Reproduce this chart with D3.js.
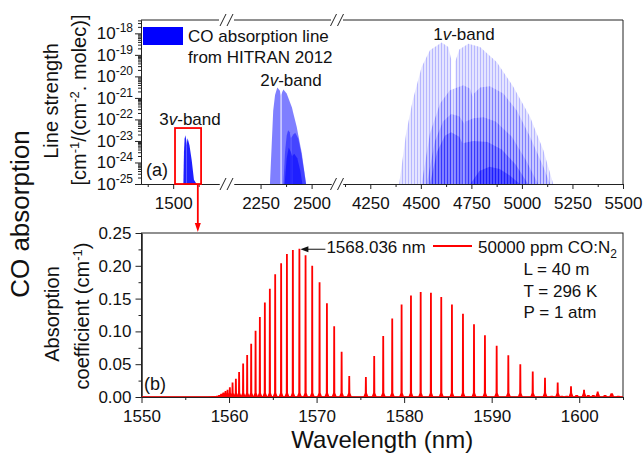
<!DOCTYPE html>
<html lang="en">
<head>
<meta charset="UTF-8">
<title>CO absorption</title>
<script src="https://d3js.org/d3.v7.min.js"></script>
<style>
  body { margin: 0; background: #fff; }
  svg { font-family: "Liberation Sans", Arial, sans-serif; }
  text { fill: #111; }
  .axis path, .axis line { stroke: #222; stroke-width: 1; }
  .axis text { font-size: 17px; fill: #111; }
</style>
</head>
<body>
<div id="chart"></div>
<script>
// ---------- data, top panel: HITRAN line strength envelopes, [wavelength nm, log10 S] ----------
// each band: list of layers (isotopologues), each layer: list of branch domes
const band3v = [
  [[[1550,-25],[1553,-23.5],[1556,-22.9],[1560,-22.73],[1564,-22.95],[1566,-23.2]],
   [[1567,-23.1],[1571,-22.88],[1580,-23.2],[1591,-23.9],[1602,-24.8],[1615,-25]]]
];
const band2v = [
  [[[2296,-25],[2305,-23.1],[2312,-21.6],[2321,-20.87],[2332,-20.52],[2345,-20.67],[2348,-20.9]],
   [[2353,-20.85],[2356,-20.72],[2362,-20.61],[2378,-20.8],[2403,-21.42],[2427,-22.34],[2452,-23.57],[2473,-25]]],
  [[[2362,-25],[2370,-23.5],[2378,-22.75],[2385,-22.5],[2393,-22.6],[2398,-22.9]],
   [[2401,-22.85],[2410,-22.7],[2420,-22.62],[2435,-22.9],[2450,-23.6],[2465,-24.5],[2473,-25]]],
  [[[2368,-25],[2378,-23.8],[2388,-23.3],[2398,-23.5],[2404,-23.7]],
   [[2406,-23.7],[2415,-23.6],[2430,-23.8],[2445,-24.4],[2455,-25]]]
];
const band1v = [
  [[[4393,-25],[4427,-22.65],[4460,-21.11],[4504,-19.56],[4545,-18.79],[4603,-18.43],[4636,-18.63],[4650,-19.2]],
   [[4671,-19.3],[4690,-18.75],[4735,-18.48],[4793,-18.63],[4875,-19.33],[4958,-20.49],[5040,-21.88],[5106,-23.43],[5155,-25]]],
  [[[4504,-25],[4545,-22.65],[4595,-21.26],[4644,-20.64],[4710,-20.41],[4743,-20.56],[4756,-20.95]],
   [[4763,-20.8],[4793,-20.52],[4842,-20.46],[4908,-20.8],[4974,-21.57],[5040,-22.81],[5106,-24.2],[5139,-25]]],
  [[[4529,-25],[4570,-23.0],[4610,-22.1],[4650,-21.75],[4690,-21.85],[4715,-22.2]],
   [[4722,-22.1],[4760,-21.95],[4810,-21.9],[4870,-22.1],[4950,-22.8],[5020,-23.9],[5080,-25]]],
  [[[4545,-25],[4580,-23.5],[4620,-22.75],[4650,-22.6],[4690,-22.8],[4705,-23.1]],
   [[4712,-23.1],[4760,-23.0],[4830,-23.05],[4900,-23.4],[4970,-24.1],[5030,-25]]],
  [[[4745,-25],[4790,-24.4],[4840,-24.2],[4890,-24.3],[4940,-24.6],[4990,-25]]]
];
const segDomains = [[1342, 1725], [2120, 2595], [4115, 5500]];
const topMajor = [[1500], [2250, 2500], [4250, 4500, 4750, 5000, 5250, 5500]];
const topMinor = [[1375, 1625], [2375], [4125, 4375, 4625, 4875, 5125, 5375]];
const topDecades = [-25, -24, -23, -22, -21, -20, -19, -18];
const zoomBox = [1509, 1637, -22.4];   // wavelength from, to, log10 S top
const zoomArrowAt = 1621;

// ---------- data, bottom panel: absorption lines (nm, cm-1) ----------
const lineCenters = [1557.9,1558.15,1558.38,1558.64,1558.91,1559.14,1559.37,1559.60,1559.83,1560.09,
  1560.40,1560.78,1561.15,1561.61,1562.07,1562.53,1563.03,1563.52,1564.09,1564.66,1565.27,1565.95,
  1566.61,1567.29,1568.036,1568.74,1569.50,1570.34,1571.18,1572.01,1572.86,1573.73,1575.63,1576.58,
  1577.61,1578.64,1579.71,1580.78,1581.89,1583.06,1584.24,1585.46,1586.72,1587.98,1589.23,1590.57,
  1591.90,1593.27,1594.69,1596.09,1597.54,1599.06,1600.55,1602.11,1603.71];
const lineHeights = [0.0005,0.0008,0.001,0.002,0.003,0.005,0.007,0.009,0.011,0.015,
  0.022,0.028,0.038,0.051,0.064,0.081,0.101,0.122,0.144,0.165,0.187,0.204,
  0.218,0.224,0.226,0.216,0.200,0.175,0.143,0.108,0.069,0.032,0.0305,0.0625,
  0.093,0.1195,0.141,0.1546,0.160,0.159,0.1525,0.141,0.127,0.111,0.094,0.078,
  0.0635,0.050,0.039,0.0295,0.022,0.0163,0.0112,0.0082,0.0056];
const weakCenters = [1596.86,1598.0,1598.57,1599.71,1601.04,1601.61,1602.95,1604.47];
const weakHeights = [0.002,0.002,0.002,0.003,0.003,0.003,0.003,0.002];
const bottomXTicks = [1550, 1560, 1570, 1580, 1590, 1600];
const bottomXMinor = [1555, 1565, 1575, 1585, 1595, 1605];
const bottomYTicks = [0, 0.05, 0.10, 0.15, 0.20, 0.25];
const bottomYMinor = [0.025, 0.075, 0.125, 0.175, 0.225];
const peakLabel = 1568.036;
const legendLines = ["L = 40 m", "T = 296 K", "P = 1 atm"];

// ---------- layout ----------
const W = 644, H = 459;
const pa = {left: 141, right: 623, top: 20, bottom: 184};
const pb = {left: 141.5, right: 623, top: 233, bottom: 397};
const segRanges = [[pa.left, 219], [234, 331], [343, pa.right]];

const svg = d3.select("#chart").append("svg").attr("width", W).attr("height", H);
const defs = svg.append("defs");
defs.append("pattern").attr("id", "stripes").attr("patternUnits", "userSpaceOnUse")
  .attr("width", 3).attr("height", 10)
  .append("rect").attr("width", 1).attr("height", 10).attr("fill", "#0000ff").attr("fill-opacity", 0.2);
defs.append("clipPath").attr("id", "clipA").append("rect")
  .attr("x", pa.left).attr("y", pa.top).attr("width", pa.right - pa.left).attr("height", pa.bottom - pa.top);
defs.append("clipPath").attr("id", "clipB").append("rect")
  .attr("x", pb.left).attr("y", pb.top - 2).attr("width", pb.right - pb.left).attr("height", pb.bottom - pb.top + 2);

// ---------- top panel ----------
const xSeg = segDomains.map((d, i) => d3.scaleLinear().domain(d).range(segRanges[i]));
const yTop = d3.scaleLog().domain([1e-25, Math.pow(10, -17.38)]).range([pa.bottom, pa.top]);

function domeArea(xs) {
  return d3.area().x(d => xs(d[0])).y0(pa.bottom).y1(d => yTop(Math.pow(10, d[1])));
}

const bands = [
  {layers: band3v, seg: 0, op: [0.88], stripes: false},
  {layers: band2v, seg: 1, op: [0.5, 0.45, 0.55], stripes: false},
  {layers: band1v, seg: 2, op: [0.1, 0.12, 0.14, 0.25, 0.35], stripes: true}
];
const gA = svg.append("g").attr("clip-path", "url(#clipA)");
bands.forEach(b => {
  const area = domeArea(xSeg[b.seg]);
  b.layers.forEach((layer, li) => {
    layer.forEach(dome => {
      gA.append("path").attr("d", area(dome)).attr("fill", "#0000ff").attr("fill-opacity", b.op[li]);
      if (b.stripes) gA.append("path").attr("d", area(dome)).attr("fill", "url(#stripes)");
    });
  });
});

// broken x axis
xSeg.forEach((s, i) => {
  svg.append("g").attr("class", "axis").attr("transform", `translate(0,${pa.bottom})`)
    .call(d3.axisBottom(s).tickValues(topMajor[i]).tickSize(5).tickSizeOuter(0).tickPadding(8).tickFormat(d3.format("d")));
  svg.append("g").attr("class", "axis").attr("transform", `translate(0,${pa.bottom})`)
    .call(d3.axisBottom(s).tickValues(topMinor[i]).tickSize(3).tickSizeOuter(0).tickFormat(""));
  svg.append("line").attr("x1", s.range()[0]).attr("x2", s.range()[1])
    .attr("y1", pa.top).attr("y2", pa.top).attr("stroke", "#222");
});
for (let i = 0; i < segRanges.length - 1; i++) {
  const c = (segRanges[i][1] + segRanges[i + 1][0]) / 2;
  [pa.top, pa.bottom].forEach(y => {
    [c - 3.5, c + 3.5].forEach(cx => {
      svg.append("line").attr("x1", cx - 3).attr("y1", y + 6).attr("x2", cx + 3).attr("y2", y - 6)
        .attr("stroke", "#222").attr("stroke-width", 1);
    });
  });
}
svg.append("line").attr("x1", pa.right).attr("x2", pa.right).attr("y1", pa.top).attr("y2", pa.bottom).attr("stroke", "#222");

// log y axis
const minorLog = [];
topDecades.forEach(e => { for (let m = 2; m <= 9; m++) { const v = m * Math.pow(10, e); if (v < yTop.domain()[1]) minorLog.push(v); } });
svg.append("g").attr("class", "axis").attr("transform", `translate(${pa.left},0)`)
  .call(d3.axisLeft(yTop).tickValues(topDecades.map(e => Math.pow(10, e))).tickSize(6).tickSizeOuter(0).tickFormat(""));
svg.append("g").attr("class", "axis").attr("transform", `translate(${pa.left},0)`)
  .call(d3.axisLeft(yTop).tickValues(minorLog).tickSize(3).tickSizeOuter(0).tickFormat(""));
topDecades.forEach(e => {
  const t = svg.append("text").attr("x", pa.left - 8).attr("y", yTop(Math.pow(10, e)) + 6)
    .attr("text-anchor", "end").style("font-size", "17px");
  t.append("tspan").text("10");
  t.append("tspan").attr("dy", -7).style("font-size", "12px").text(String(e));
});

// band labels
function bandLabel(x, y, num) {
  const t = svg.append("text").attr("x", x).attr("y", y).attr("text-anchor", "middle").style("font-size", "17px");
  t.append("tspan").text(num);
  t.append("tspan").style("font-style", "italic").text("v");
  t.append("tspan").text("-band");
}
bandLabel(xSeg[0](1582.5), yTop(Math.pow(10, -22.24)), "3");
bandLabel(xSeg[1](2399), yTop(Math.pow(10, -20.46)), "2");
bandLabel(xSeg[2](4713), yTop(Math.pow(10, -18.32)), "1");

// legend top
svg.append("rect").attr("x", pa.left + 2).attr("y", 27).attr("width", 40).attr("height", 18).attr("fill", "#0000ff");
svg.append("text").attr("x", 188).attr("y", 42).style("font-size", "17px").text("CO absorption line");
svg.append("text").attr("x", 188).attr("y", 63).style("font-size", "17px").text("from HITRAN 2012");
svg.append("text").attr("x", 146).attr("y", 176).style("font-size", "18px").text("(a)");

// zoom box and arrow
const bx0 = xSeg[0](zoomBox[0]), bx1 = xSeg[0](zoomBox[1]), by0 = yTop(Math.pow(10, zoomBox[2]));
svg.append("rect").attr("x", bx0).attr("y", by0).attr("width", bx1 - bx0).attr("height", pa.bottom - by0)
  .attr("fill", "none").attr("stroke", "#ff0000").attr("stroke-width", 1.8);
const ax = xSeg[0](zoomArrowAt);
svg.append("line").attr("x1", ax).attr("x2", ax).attr("y1", pa.bottom).attr("y2", pb.top - 8)
  .attr("stroke", "#ff0000").attr("stroke-width", 1.8);
svg.append("path").attr("d", `M${ax - 3},${pb.top - 10} L${ax + 3},${pb.top - 10} L${ax},${pb.top - 1} Z`).attr("fill", "#ff0000");

// ---------- bottom panel ----------
const x2 = d3.scaleLinear().domain([1550, 1605]).range([pb.left, pb.right]);
const y2 = d3.scaleLinear().domain([0, 0.25]).range([pb.bottom, pb.top]);

svg.append("rect").attr("x", pb.left).attr("y", pb.top).attr("width", pb.right - pb.left).attr("height", pb.bottom - pb.top)
  .attr("fill", "none").attr("stroke", "#222");
svg.append("g").attr("class", "axis").attr("transform", `translate(0,${pb.bottom})`)
  .call(d3.axisBottom(x2).tickValues(bottomXTicks).tickSize(6).tickSizeOuter(0).tickPadding(7).tickFormat(d3.format("d")));
svg.append("g").attr("class", "axis").attr("transform", `translate(0,${pb.bottom})`)
  .call(d3.axisBottom(x2).tickValues(bottomXMinor).tickSize(3).tickSizeOuter(0).tickFormat(""));
svg.append("g").attr("class", "axis").attr("transform", `translate(${pb.left},0)`)
  .call(d3.axisLeft(y2).tickValues(bottomYTicks).tickSize(6).tickSizeOuter(0).tickPadding(4).tickFormat(d3.format(".2f")));
svg.append("g").attr("class", "axis").attr("transform", `translate(${pb.left},0)`)
  .call(d3.axisLeft(y2).tickValues(bottomYMinor).tickSize(3).tickSizeOuter(0).tickFormat(""));

const gB = svg.append("g").attr("clip-path", "url(#clipB)");
gB.append("line").attr("x1", x2(1550)).attr("x2", x2(1605)).attr("y1", y2(0)).attr("y2", y2(0))
  .attr("stroke", "#ff0000").attr("stroke-width", 1.5);
function spike(c, h) {
  const x = x2(c), y0 = y2(0), yt = y2(h), sh = Math.max(yt, y0 - 4);
  return `M${x - 2.6},${y0} L${x - 1.1},${sh} L${x - 0.9},${yt} L${x + 0.9},${yt} L${x + 1.1},${sh} L${x + 2.6},${y0} Z`;
}
const allLines = lineCenters.map((c, i) => [c, lineHeights[i]]).concat(weakCenters.map((c, i) => [c, weakHeights[i]]));
gB.selectAll(".spike").data(allLines).enter().append("path").attr("class", "spike")
  .attr("d", d => spike(d[0], d[1])).attr("fill", "#ff0000");

// peak annotation
const pi = lineCenters.indexOf(peakLabel);
const tipX = x2(peakLabel) + 1, tipY = y2(lineHeights[pi]) + 0.5;
svg.append("line").attr("x1", tipX + 6).attr("x2", tipX + 25).attr("y1", tipY).attr("y2", tipY).attr("stroke", "#111");
svg.append("path").attr("d", `M${tipX},${tipY} L${tipX + 8},${tipY - 3} L${tipX + 8},${tipY + 3} Z`).attr("fill", "#111");
svg.append("text").attr("x", tipX + 26).attr("y", 253).style("font-size", "17px").text(peakLabel.toFixed(3) + " nm");

// legend bottom
svg.append("line").attr("x1", 433).attr("x2", 472).attr("y1", 246).attr("y2", 246).attr("stroke", "#ff0000").attr("stroke-width", 1.8);
const lg = svg.append("text").attr("x", 478).attr("y", 253).style("font-size", "17px");
lg.append("tspan").text("50000 ppm CO:N");
lg.append("tspan").attr("dy", 5).style("font-size", "12px").text("2");
legendLines.forEach((s, i) => {
  svg.append("text").attr("x", 523.5).attr("y", 275 + i * 21.5).style("font-size", "17px").text(s);
});
svg.append("text").attr("x", 144).attr("y", 390).style("font-size", "18px").text("(b)");

// ---------- axis titles ----------
function rotText(x, y, size) {
  return svg.append("text").attr("transform", `translate(${x},${y}) rotate(-90)`)
    .attr("text-anchor", "middle").style("font-size", size + "px");
}
rotText(29, 214, 26).text("CO absorption");
rotText(58, 101, 20).text("Line strength");
const u1 = rotText(86, 100, 20);
u1.append("tspan").text("[cm");
u1.append("tspan").attr("dy", -7).style("font-size", "13px").text("-1");
u1.append("tspan").attr("dy", 7).text("/(cm");
u1.append("tspan").attr("dy", -7).style("font-size", "13px").text("-2");
u1.append("tspan").attr("dy", 7).text(". molec)]");
rotText(59, 314, 20).text("Absorption");
const u2 = rotText(89, 316, 20);
u2.append("tspan").text("coefficient (cm");
u2.append("tspan").attr("dy", -7).style("font-size", "13px").text("-1");
u2.append("tspan").attr("dy", 7).text(")");
svg.append("text").attr("x", (pb.left + pb.right) / 2).attr("y", 448).attr("text-anchor", "middle")
  .style("font-size", "24px").text("Wavelength (nm)");
</script>
</body>
</html>
